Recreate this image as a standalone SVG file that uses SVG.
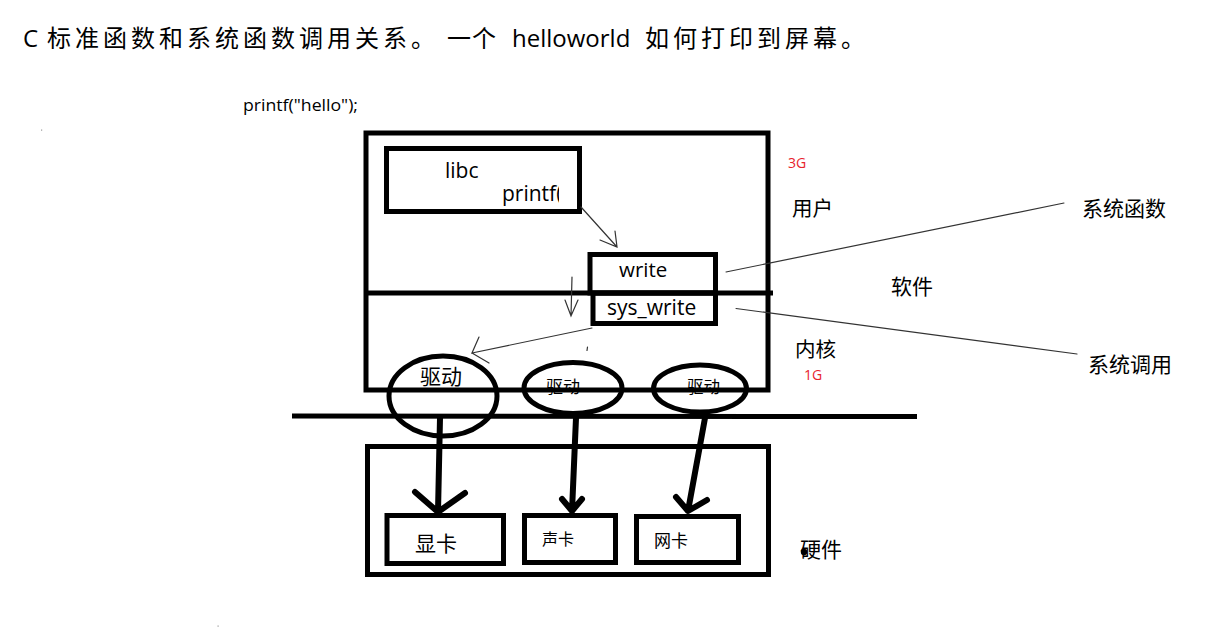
<svg xmlns="http://www.w3.org/2000/svg" width="1226" height="631" viewBox="0 0 1226 631">
<style>
text{font-family:"Open Sans","Noto Sans CJK SC",sans-serif;fill:#000}
.cjk{font-family:"Noto Sans CJK SC","Open Sans",sans-serif}
.red{fill:#e8242c;font-family:"Open Sans",sans-serif;font-size:14px}
.box{fill:none;stroke:#000;stroke-width:5}
.thin{fill:none;stroke:#333;stroke-width:1.2;stroke-linecap:round}
.thick{fill:none;stroke:#000;stroke-width:6;stroke-linecap:round;stroke-linejoin:round}
</style>
<defs>
<clipPath id="pclip"><rect x="380" y="140" width="179" height="80"/></clipPath>
</defs>
<rect width="1226" height="631" fill="#fff"/>

<g id="title">
<text y="47" font-size="24"><tspan x="23">C</tspan><tspan class="cjk" x="47" letter-spacing="4">标准函数和系统函数调用关系。</tspan><tspan class="cjk" x="447" letter-spacing="1">一个</tspan><tspan x="512">helloworld</tspan><tspan class="cjk" x="645" letter-spacing="4">如何打印到屏幕。</tspan></text>
</g>
<g id="printf-call"><text x="243" y="111" font-size="16" textLength="115" lengthAdjust="spacingAndGlyphs">printf("hello");</text></g>

<g id="driver-labels">
<text class="cjk" x="420" y="384" font-size="21">驱动</text>
<text class="cjk" x="546" y="393" font-size="17">驱动</text>
<text class="cjk" x="687" y="393" font-size="16.5">驱动</text>
</g>

<g id="software-box">
<rect class="box" x="366" y="133" width="402" height="257"/>
<line x1="366" y1="293" x2="773" y2="293" stroke="#000" stroke-width="5"/>
</g>

<g id="libc">
<rect class="box" x="386.5" y="148.5" width="193" height="63"/>
<text x="445" y="178" font-size="21">libc</text>
<text x="502" y="201" font-size="21" clip-path="url(#pclip)">printf(</text>
</g>

<g id="write">
<rect class="box" x="590" y="254.5" width="125.5" height="38.5"/>
<text x="619" y="277" font-size="20.5">write</text>
</g>

<g id="sys_write">
<rect class="box" x="593" y="293" width="122.5" height="30.5"/>
<text x="607" y="315" font-size="21">sys_write</text>
</g>

<g id="drivers">
<ellipse class="box" cx="443" cy="396" rx="54" ry="40"/>
<ellipse class="box" cx="573" cy="388" rx="49" ry="25.5"/>
<ellipse class="box" cx="700" cy="388.5" rx="46.5" ry="23.5"/>
</g>

<g id="bus"><line x1="292" y1="416" x2="917" y2="416.5" stroke="#000" stroke-width="5"/></g>

<g id="hardware-box"><rect class="box" x="367.5" y="446.5" width="401" height="128"/></g>

<g id="gpu">
<rect class="box" x="387" y="515.5" width="116.5" height="48"/>
<text class="cjk" x="415" y="551" font-size="21">显卡</text>
</g>
<g id="sound">
<rect class="box" x="524.5" y="515.5" width="91" height="47"/>
<text class="cjk" x="542" y="545" font-size="16">声卡</text>
</g>
<g id="nic">
<rect class="box" x="636.5" y="516.5" width="102" height="46"/>
<text class="cjk" x="654" y="547" font-size="17">网卡</text>
</g>

<g id="labels">
<text class="red" x="788" y="168">3G</text>
<text class="cjk" x="792" y="216" font-size="20.5">用户</text>
<text class="cjk" x="891" y="294" font-size="21">软件</text>
<text class="cjk" x="795" y="357" font-size="20.5">内核</text>
<text class="red" x="804" y="380">1G</text>
<text class="cjk" x="1082" y="216" font-size="21">系统函数</text>
<text class="cjk" x="1088" y="372" font-size="21">系统调用</text>
<text class="cjk" x="800" y="557" font-size="21">硬件</text>
<circle cx="804" cy="552" r="3.2" fill="#000"/>
</g>

<g id="connectors">
<path class="thin" d="M581 207 L617 247 M600 240 L617 247 L615 231"/>
<path class="thin" d="M572 277 L571 316 M565 300 L571 316 L578 300"/>
<path class="thin" d="M592 328 L472 353 L479 337 M472 353 L489 363"/>
<line class="thin" x1="587.5" y1="347" x2="587" y2="350.5"/>
<line class="thin" x1="726" y1="272" x2="1064" y2="203"/>
<line class="thin" x1="736" y1="308.5" x2="1077" y2="354"/>
<path class="thick" d="M440 418 L438 512 M415 492 L438 512 L465 493"/>
<path class="thick" d="M576 418 L572 511 M562 499 L572 511 L582 499"/>
<path class="thick" d="M705 418 L688 511 M676 497 L688 511 L707 500"/>
</g>

<g id="specks">
<rect x="41" y="129.5" width="1.2" height="1.2" fill="#999"/>
<rect x="217.5" y="625.5" width="1.2" height="1.2" fill="#999"/>
</g>
</svg>
